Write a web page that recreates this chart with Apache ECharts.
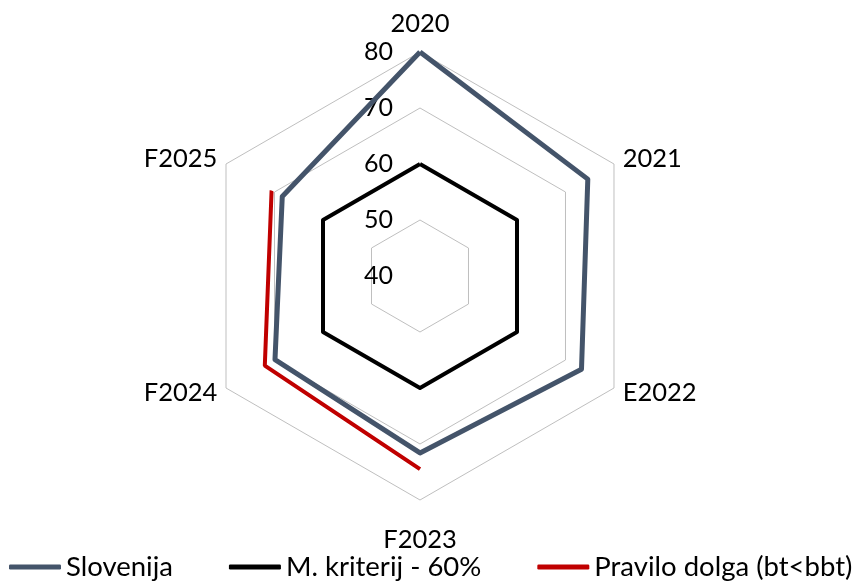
<!DOCTYPE html>
<html>
<head>
<meta charset="utf-8">
<script src="https://cdn.jsdelivr.net/npm/echarts@6/dist/echarts.min.js"></script>
<style>
  html, body { margin: 0; padding: 0; background: #ffffff; }
  #chart { width: 858px; height: 582px; }
</style>
</head>
<body>
<div id="chart"></div>
<script>
// Years on the spokes, in clockwise order starting at the top
const indicators = ['2020', '2021', 'E2022', 'F2023', 'F2024', 'F2025'];
// Debt as % of GDP
const slovenija = [80.0, 74.6, 73.3, 71.6, 69.9, 68.4];
const kriterij = [60, 60, 60, 60, 60, 60];
const praviloDolga = [null, null, null, 74.5, 72.0, 70.6];
// Scale of the rings
const tickLabels = [40, 50, 60, 70, 80];

const seriesNames = ['Slovenija', 'M. kriterij - 60%', 'Pravilo dolga (bt<bbt)'];
const colors = ['#44546a', '#000000', '#c00000'];

const FONT = 'Lato';
const axisMin = tickLabels[0];
const axisMax = tickLabels[tickLabels.length - 1];
const CENTER = [420, 276];
const RADIUS = 224;

// Distance of each spoke name from the outer ring (top, sides, bottom)
const nameGaps = { '2020': 15, 'F2023': 27 };
const sideGap = 10;

// The radar runs counter-clockwise, so feed it the spokes in reverse (keeping 2020 first)
const radarOrder = [0, 5, 4, 3, 2, 1];
const reorder = arr => radarOrder.map(i => arr[i]);

const chart = echarts.init(document.getElementById('chart'), null, { renderer: 'canvas' });

chart.setOption({
  backgroundColor: '#ffffff',
  animation: false,
  textStyle: { fontFamily: FONT },
  legend: {
    data: seriesNames,
    bottom: 1,
    left: 9,
    width: 900,
    padding: 0,
    icon: 'roundRect',
    itemWidth: 52,
    itemHeight: 5,
    itemGap: 56,
    textStyle: { fontFamily: FONT, fontSize: 27.5, color: '#000000' }
  },
  radar: {
    center: CENTER,
    radius: RADIUS,
    shape: 'polygon',
    splitNumber: tickLabels.length - 1,
    nameGap: sideGap,
    axisName: { color: '#000000', fontSize: 25.5, fontFamily: FONT },
    axisLine: { show: false },
    axisTick: { show: false },
    axisLabel: { show: false },
    splitLine: { lineStyle: { color: '#bfbfbf', width: 1 } },
    splitArea: { show: false },
    indicator: reorder(indicators).map((name, i) => {
      const ind = { name: name, min: axisMin, max: axisMax };
      if (nameGaps[name] !== undefined) ind.nameGap = nameGaps[name];
      if (i === 0) {
        ind.axisLabel = {
          show: true, showMinLabel: true, showMaxLabel: true,
          margin: 27, color: '#000000', fontSize: 25, fontFamily: FONT
        };
      }
      return ind;
    })
  },
  polar: { center: CENTER, radius: RADIUS },
  angleAxis: {
    type: 'category',
    data: indicators,
    startAngle: 90,
    clockwise: true,
    boundaryGap: false,
    axisLine: { show: false },
    axisTick: { show: false },
    axisLabel: { show: false },
    splitLine: { show: false }
  },
  radiusAxis: {
    min: axisMin,
    max: axisMax,
    axisLine: { show: false },
    axisTick: { show: false },
    axisLabel: { show: false },
    splitLine: { show: false }
  },
  series: [
    {
      type: 'radar',
      symbol: 'none',
      z: 3,
      data: [
        {
          name: seriesNames[0],
          value: reorder(slovenija),
          itemStyle: { color: colors[0] },
          lineStyle: { color: colors[0], width: 5 }
        },
        {
          name: seriesNames[1],
          value: reorder(kriterij),
          itemStyle: { color: colors[1] },
          lineStyle: { color: colors[1], width: 4 }
        }
      ]
    },
    {
      type: 'line',
      name: seriesNames[2],
      coordinateSystem: 'polar',
      data: praviloDolga,
      symbol: 'none',
      connectNulls: false,
      z: 2,
      itemStyle: { color: colors[2] },
      lineStyle: { color: colors[2], width: 4 }
    }
  ]
});
</script>
</body>
</html>
